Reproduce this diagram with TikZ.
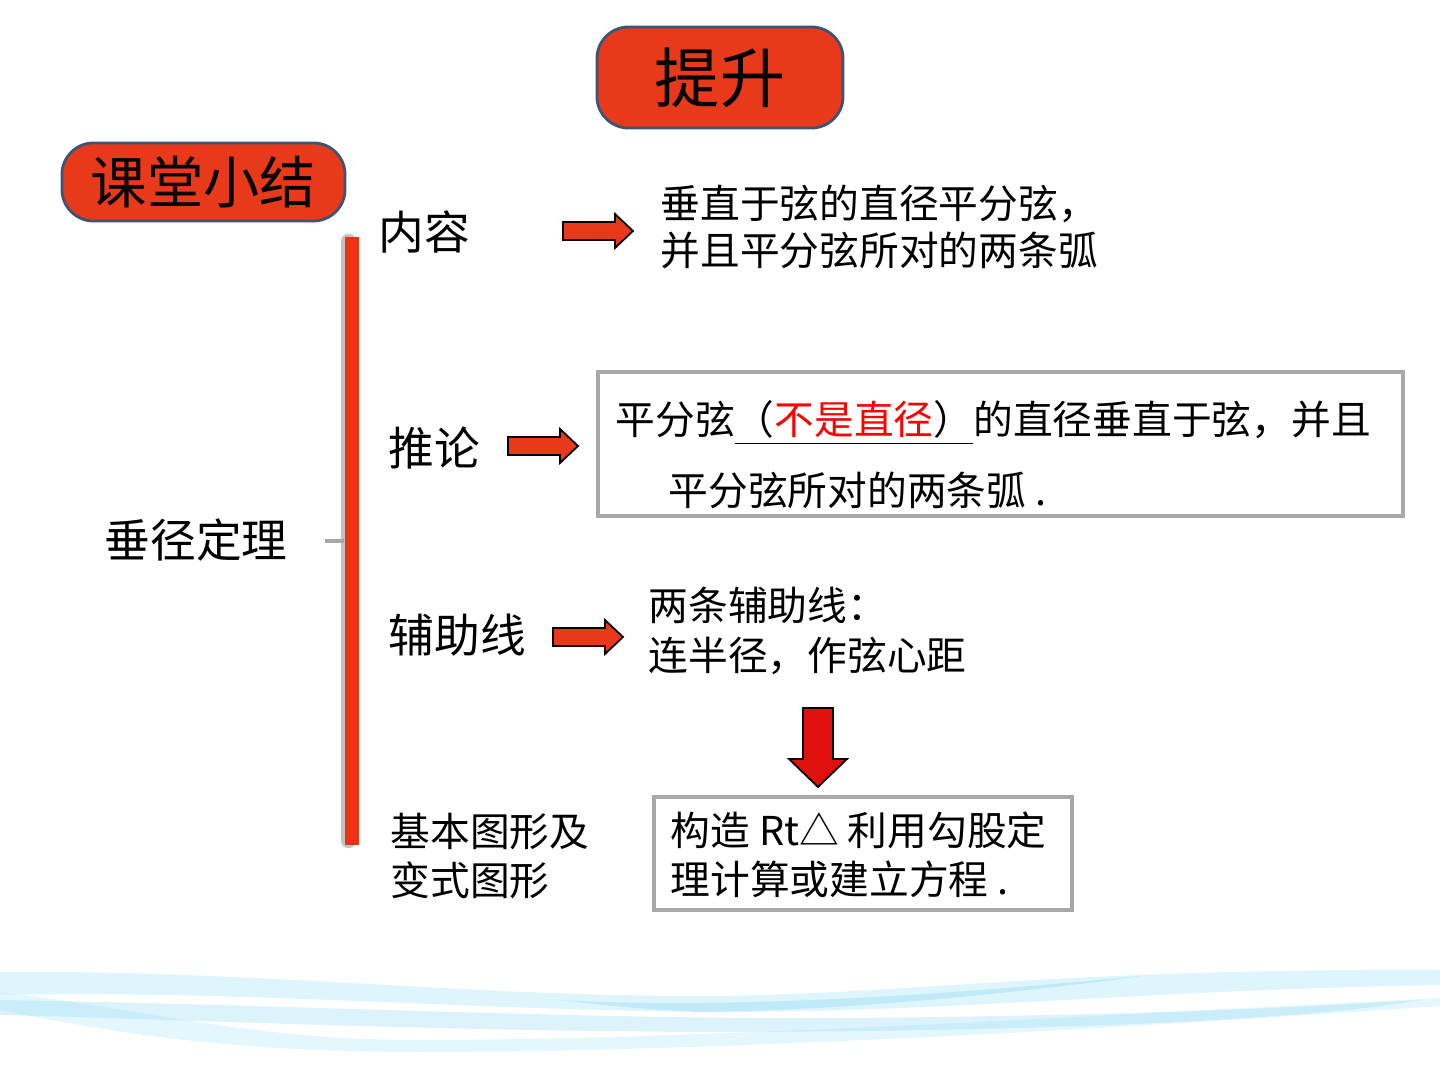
\documentclass[tikz,border=0pt]{standalone}
\usepackage{fontspec}
\setmainfont{Noto Sans CJK SC}
\usetikzlibrary{calc}
\definecolor{tagred}{HTML}{E8391A}
\definecolor{tagedge}{HTML}{3E5475}
\definecolor{barred}{HTML}{EE3314}
\definecolor{boxgray}{HTML}{A8A8A8}
\definecolor{downred}{HTML}{E0100E}
\definecolor{wavecyan}{HTML}{9ADDF5}
\definecolor{wavepale}{HTML}{D2F1FB}
\def\rightblock(#1,#2){\draw[fill=tagred, line width=0.5pt] (#1,#2-9) -- ++(52,0) -- ++(0,-8) -- ++(18,17) -- ++(-18,17) -- ++(0,-8) -- ++(-52,0) -- cycle;}
\tikzset{
  tag/.style={draw=tagedge, fill=tagred, rounded corners=9pt, line width=0.8pt, inner sep=0pt},
  lbl/.style={anchor=west, inner sep=0pt, font=\fontsize{13}{16}\selectfont},
  txt/.style={anchor=west, inner sep=0pt, align=left, font=\fontsize{11.3}{13.6}\selectfont},
  framebox/.style={draw=boxgray, line width=1pt},
}

\begin{document}
\begin{tikzpicture}[x=0.01cm, y=-0.01cm]
			%%%%% START %%%%%
			\useasboundingbox (0,0) rectangle (1440,1080);
			
			% wave at the bottom
			\fill[wavepale, fill opacity=0.7] (0,972) .. controls (250,970) and (450,995) .. (690,996) .. controls (900,996) and (1050,968) .. (1440,970) -- (1440,985) .. controls (1150,990) and (950,1012) .. (720,1012) .. controls (450,1010) and (250,990) .. (0,995) -- cycle;
			\fill[wavecyan, fill opacity=0.45] (560,1000) .. controls (700,1008) and (900,1000) .. (1150,975) .. controls (1000,995) and (850,1010) .. (700,1012) .. controls (650,1010) and (600,1005) .. (560,1000) -- cycle;
			\fill[wavepale, fill opacity=0.6] (0,992) .. controls (150,1010) and (250,1040) .. (420,1040) .. controls (700,1040) and (1100,1015) .. (1440,998) -- (1440,1006) .. controls (1100,1030) and (700,1052) .. (420,1052) .. controls (220,1052) and (100,1030) .. (0,1010) -- cycle;
			\fill[wavecyan, fill opacity=0.35] (0,1000) .. controls (300,1005) and (600,1020) .. (850,1018) .. controls (1100,1016) and (1300,1008) .. (1420,1000) .. controls (1300,1022) and (1000,1032) .. (700,1032) .. controls (400,1030) and (200,1020) .. (0,1015) -- cycle;
			
			% title tags
			\node[tag, minimum width=2.46cm, minimum height=1.01cm, font=\fontsize{18.5}{22}\selectfont] (tisheng) at (720,77.5) {提升};
			\node[tag, minimum width=2.83cm, minimum height=0.78cm, font=\fontsize{16}{19}\selectfont] (xiaojie) at (203.5,182) {课堂小结};
			
			% bracket
			\fill[boxgray!70, rounded corners=2pt] (341,234) rectangle (356,848);
			\fill[barred] (345,237) rectangle (359,845);
			\coordinate (brace) at (344,541);
			\node[lbl] (theorem) at (104,540) {垂径定理};
			\draw[boxgray, line width=1pt] (325,541) -- (brace);
			
			% content
			\node[lbl] (neirong) at (378,232) {内容};
			\rightblock(563,231);
			\node[txt] (content) at (660,227) {垂直于弦的直径平分弦，\\并且平分弦所对的两条弧};
			
			% corollary
			\node[lbl] (tuilun) at (388,448) {推论};
			\rightblock(508,446);
			\draw[framebox] (598,372) rectangle (1403,516);
			\node[txt] (corA) at (615,423) {平分弦\underline{（\textcolor{red}{不是直径}）}的直径垂直于弦，并且};
			\node[txt] (corB) at (668,490) {平分弦所对的两条弧 .};
			
			% auxiliary lines
			\node[lbl] (fuzhu) at (388,635) {辅助线};
			\rightblock(553,637);
			\node[txt, font=\fontsize{11.3}{14.2}\selectfont] (auxtext) at (648,631) {两条辅助线：\\连半径，作弦心距};
			\draw[fill=downred, line width=0.5pt] (803,708) -- (833,708) -- (833,759) -- (847,759) -- (818,787) -- (789,759) -- (803,759) -- cycle;
			
			% basic figures
			\node[txt, font=\fontsize{11.3}{13.7}\selectfont] (basic) at (390,856) {基本图形及\\变式图形};
			\draw[framebox] (654,797) rectangle (1072,910);
			\node[txt, font=\fontsize{11.3}{13.9}\selectfont] (method) at (670,855) {构造 Rt△ 利用勾股定\\理计算或建立方程 .};
			
			%%%%% END %%%%%
\end{tikzpicture}
\end{document}
